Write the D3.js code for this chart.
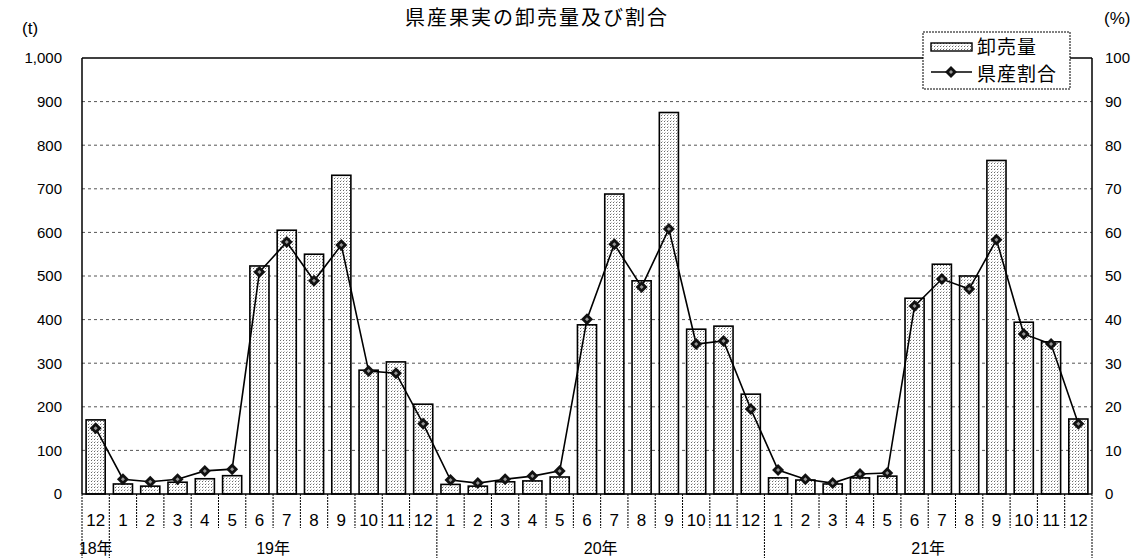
<!DOCTYPE html>
<html><head><meta charset="utf-8">
<script src="https://cdn.jsdelivr.net/npm/d3@7"></script>
<style>
html,body{margin:0;padding:0;background:#fff;}
svg{display:block;font-family:"Liberation Sans","Noto Sans CJK JP",sans-serif;}
</style></head>
<body>
<svg id="c" width="1144" height="558"></svg>
<script>
const months = ["12","1","2","3","4","5","6","7","8","9","10","11","12","1","2","3","4","5","6","7","8","9","10","11","12","1","2","3","4","5","6","7","8","9","10","11","12"];
const years = ["18年","19年","20年","21年"];
const yearStart = [0, 1, 13, 25];
const yearEnd = [0, 12, 24, 36];
const volume = [170,
  23,18,27,35,42,523,605,550,731,284,303,206,
  22,18,28,30,39,388,688,489,875,378,385,229,
  37,32,23,37,41,449,527,500,765,394,349,172];
const ratio = [15.1,
  3.4,2.8,3.4,5.3,5.7,50.9,57.8,48.9,57.1,28.2,27.7,16.1,
  3.2,2.5,3.4,4.1,5.3,40.1,57.3,47.5,60.8,34.4,35.1,19.5,
  5.5,3.4,2.5,4.6,4.8,43.1,49.3,47.0,58.3,36.7,34.4,16.1];
const leftTicks = [0,100,200,300,400,500,600,700,800,900,1000];
const rightTicks = [0,10,20,30,40,50,60,70,80,90,100];
const title = "県産果実の卸売量及び割合";
const legendLabels = ["卸売量","県産割合"];

const svg = d3.select("#c");
const L = 82, R = 1092, T = 58, B = 494;
const idx = d3.range(months.length);
const x = d3.scaleBand().domain(idx).range([L, R]).paddingInner(0.3).paddingOuter(0.15);
const y = d3.scaleLinear().domain([0, 1000]).range([B, T]);
const y2 = d3.scaleLinear().domain([0, 100]).range([B, T]);
const step = x.step();
const bnd = i => x(i) - step * 0.15;

const defs = svg.append("defs");
const pat = defs.append("pattern").attr("id","dots").attr("patternUnits","userSpaceOnUse")
  .attr("width",3).attr("height",3);
pat.append("rect").attr("width",3).attr("height",3).attr("fill","#fff");
pat.append("rect").attr("x",1).attr("y",1).attr("width",1).attr("height",1).attr("fill","#6a6a6a");
pat.append("rect").attr("x",2).attr("y",0).attr("width",1).attr("height",1).attr("fill","#c8c8c8");

// gridlines
svg.append("g").selectAll("line").data(leftTicks.filter(d => d > 0 && d < 1000)).join("line")
  .attr("x1", L).attr("x2", R).attr("y1", d => y(d)).attr("y2", d => y(d))
  .attr("stroke", "#555").attr("stroke-width", 1).attr("stroke-dasharray", "3,3");

// bars
svg.append("g").selectAll("rect").data(volume).join("rect")
  .attr("x", (d,i) => x(i)).attr("width", x.bandwidth())
  .attr("y", d => y(d)).attr("height", d => B - y(d))
  .attr("fill", "url(#dots)").attr("stroke", "#000").attr("stroke-width", 1.6);

// frame
svg.append("line").attr("x1", L).attr("x2", R).attr("y1", T).attr("y2", T).attr("stroke","#000").attr("stroke-width",1.5);
svg.append("line").attr("x1", L).attr("x2", L).attr("y1", T).attr("y2", B).attr("stroke","#000").attr("stroke-width",1.5);
svg.append("line").attr("x1", R).attr("x2", R).attr("y1", T).attr("y2", B).attr("stroke","#000").attr("stroke-width",1.5);
svg.append("line").attr("x1", L).attr("x2", R).attr("y1", B).attr("y2", B).attr("stroke","#000").attr("stroke-width",1.5);

// separators under axis
const seps = d3.range(months.length + 1);
const longSeps = new Set([0, 1, 13, 25, 37]);
svg.append("g").selectAll("line").data(seps).join("line")
  .attr("x1", i => i === 37 ? R : bnd(i)).attr("x2", i => i === 37 ? R : bnd(i))
  .attr("y1", B).attr("y2", i => longSeps.has(i) ? 558 : 528)
  .attr("stroke", "#000").attr("stroke-width", 1).attr("stroke-dasharray", "2,1");

// line
const line = d3.line().x((d,i) => x(i) + x.bandwidth()/2).y(d => y2(d));
svg.append("path").datum(ratio).attr("d", line).attr("fill","none").attr("stroke","#000").attr("stroke-width",1.6);
const diamond = "M0,-6L6,0L0,6L-6,0Z";
const inner = "M0,-2L2,0L0,2L-2,0Z";
const mk = svg.append("g").selectAll("g").data(ratio).join("g")
  .attr("transform", (d,i) => `translate(${x(i) + x.bandwidth()/2},${y2(d)})`);
mk.append("path").attr("d", diamond).attr("fill", "#111");
mk.append("path").attr("d", inner).attr("fill", "#999");

// left axis
const ax = svg.append("g").attr("transform", `translate(62,0)`)
  .call(d3.axisLeft(y).tickValues(leftTicks).tickFormat(d3.format(",")).tickSize(0).tickPadding(0));
ax.select(".domain").remove();
ax.selectAll("text").attr("font-size", 15).attr("fill", "#000").attr("font-family", "Liberation Sans, sans-serif");

// right axis
const ax2 = svg.append("g").attr("transform", `translate(1105,0)`)
  .call(d3.axisRight(y2).tickValues(rightTicks).tickSize(0).tickPadding(0));
ax2.select(".domain").remove();
ax2.selectAll("text").attr("font-size", 15).attr("fill", "#000").attr("font-family", "Liberation Sans, sans-serif");

// month axis
const axb = svg.append("g").attr("transform", `translate(0,${B})`)
  .call(d3.axisBottom(x).tickFormat(i => months[i]).tickSize(0).tickPadding(20));
axb.select(".domain").remove();
axb.selectAll("text").attr("font-size", 17).attr("fill", "#000").attr("font-family", "Liberation Sans, sans-serif");

// year labels
svg.append("g").selectAll("text").data(years).join("text")
  .attr("x", (d,i) => (bnd(yearStart[i]) + (yearEnd[i] === 36 ? R : bnd(yearEnd[i] + 1))) / 2)
  .attr("y", 554).attr("text-anchor", "middle").attr("font-size", 16).attr("fill", "#000")
  .text(d => d);

// title & units
svg.append("text").attr("x", 405).attr("y", 25).attr("font-size", 20).attr("letter-spacing", 2)
  .attr("font-family", "Noto Sans CJK JP, sans-serif").attr("fill", "#000").text(title);
svg.append("text").attr("x", 22).attr("y", 34).attr("font-size", 17).attr("fill", "#000").text("(t)");
svg.append("text").attr("x", 1104).attr("y", 24).attr("font-size", 17).attr("fill", "#000").text("(%)");

// legend
const lg = svg.append("g");
lg.append("rect").attr("x", 923).attr("y", 32).attr("width", 147).attr("height", 57)
  .attr("fill", "#fff").attr("stroke", "#000").attr("stroke-width", 1).attr("stroke-dasharray", "2,1");
lg.append("rect").attr("x", 931).attr("y", 43).attr("width", 41).attr("height", 8)
  .attr("fill", "url(#dots)").attr("stroke", "#000").attr("stroke-width", 1.4);
lg.append("line").attr("x1", 931).attr("x2", 972).attr("y1", 72).attr("y2", 72).attr("stroke", "#000").attr("stroke-width", 1.6);
lg.append("path").attr("d", diamond).attr("transform", "translate(951,72)").attr("fill", "#111");
lg.append("path").attr("d", inner).attr("transform", "translate(951,72)").attr("fill", "#999");
lg.selectAll("text.l").data(legendLabels).join("text").attr("class","l")
  .attr("x", 977).attr("y", (d,i) => 54 + i * 27).attr("font-size", 19).attr("letter-spacing", 1)
  .attr("font-family", "Noto Sans CJK JP, sans-serif").attr("fill", "#000").text(d => d);
</script>
</body></html>
